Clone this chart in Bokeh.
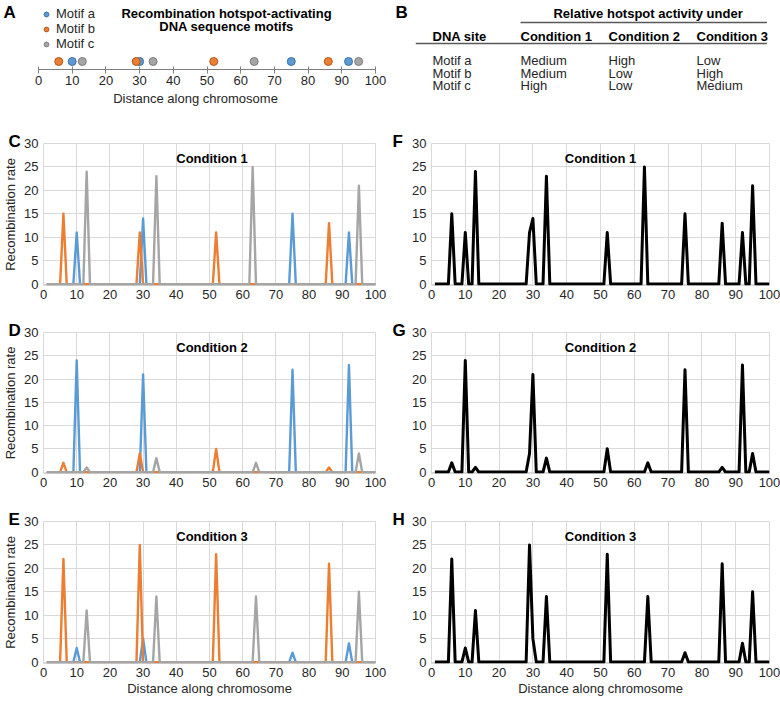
import numpy as np
from bokeh.plotting import figure
from bokeh.models import (Range1d, Label, Legend, LegendItem, SingleIntervalTicker,
                          ColumnDataSource, Title)
from bokeh.layouts import column, row
from bokeh.embed import file_html
from bokeh.resources import INLINE
from bokeh.core.properties import value

FONT = "Liberation Sans"
TXT = "#262626"
GRID = "#d9d9d9"

# ---------------- data ----------------
motif_names = ["Motif a", "Motif b", "Motif c"]
motif_colors = ["#5B9BD5", "#ED7D31", "#A5A5A5"]
motif_edges = ["#41719C", "#AE5A21", "#7B7B7B"]

# motif positions along the chromosome (panel A)
pos_a = [10, 30, 75, 92]
pos_b = [6, 29, 52, 86]
pos_c = [13, 34, 64, 95]
pos_c_cond1 = [13, 34, 63, 95]  # as drawn in the Condition 1 panels

# recombination rate at each motif site, per condition
cond1_a = [11, 14, 15, 11]
cond1_b = [15, 11, 11, 13]
cond1_c = [24, 23, 25, 21]
cond2_a = [24, 21, 22, 23]
cond2_b = [2, 4, 5, 1]
cond2_c = [1, 3, 2, 4]
cond3_a = [3, 5, 2, 4]
cond3_b = [22, 25, 23, 21]
cond3_c = [11, 14, 14, 15]

chromosome = list(range(1, 101))  # sampled positions along chromosome

# table (panel B)
table_header = ["DNA site", "Condition 1", "Condition 2", "Condition 3"]
table_sites = ["Motif a", "Motif b", "Motif c"]
table_cond1 = ["Medium", "Medium", "High"]
table_cond2 = ["High", "Low", "Low"]
table_cond3 = ["Low", "High", "Medium"]

x_label = "Distance along chromosome"
y_label = "Recombination rate"


def profile(positions, heights):
    y = np.zeros(len(chromosome))
    for p, h in zip(positions, heights):
        y[chromosome.index(p)] += h
    return y


conditions = [
    ("Condition 1", [(pos_a, cond1_a), (pos_b, cond1_b), (pos_c_cond1, cond1_c)]),
    ("Condition 2", [(pos_a, cond2_a), (pos_b, cond2_b), (pos_c, cond2_c)]),
    ("Condition 3", [(pos_a, cond3_a), (pos_b, cond3_b), (pos_c, cond3_c)]),
]

# ---------------- layout constants ----------------
LEFT_W, RIGHT_W = 390, 390
L_BL, L_BR = 38, 15
R_BL, R_BR = 41, 11
TOP_H = 110
ROWS = [(197, 33, 22), (188, 25, 22), (205, 26, 37)]


def style_axes(p):
    for ax in (p.xaxis[0], p.yaxis[0]):
        ax.axis_line_color = None
        ax.major_tick_line_color = None
        ax.minor_tick_line_color = None
        ax.major_tick_out = 0
        ax.major_tick_in = 0
        ax.major_label_text_font = FONT
        ax.major_label_text_font_size = "13px"
        ax.major_label_text_color = TXT
    p.xaxis[0].ticker = SingleIntervalTicker(interval=10, num_minor_ticks=0)
    p.yaxis[0].ticker = SingleIntervalTicker(interval=5, num_minor_ticks=0)
    p.xaxis[0].major_label_standoff = 4
    p.yaxis[0].major_label_standoff = 5
    p.xgrid.grid_line_color = GRID
    p.ygrid.grid_line_color = GRID
    p.outline_line_color = GRID


def rate_panel(idx, left):
    title, series = conditions[idx]
    h, bt, bb = ROWS[idx]
    w = LEFT_W if left else RIGHT_W
    bl, br = (L_BL, L_BR) if left else (R_BL, R_BR)
    fw = w - bl - br
    fh = h - bt - bb
    letters = ["C", "D", "E"] if left else ["F", "G", "H"]
    ttl = Title(text=letters[idx], align="left", offset=-(bl - (3 if left else 2)),
                text_font=FONT, text_font_style="bold", text_font_size="17px",
                text_color="#000000", standoff=-14, vertical_align="bottom")
    p = figure(width=w, height=h, output_backend="svg", toolbar_location=None,
               title=ttl,
               x_range=Range1d(0, 100), y_range=Range1d(-0.3, 30),
               min_border_left=bl, min_border_right=br,
               min_border_top=bt, min_border_bottom=bb,
               background_fill_color="white", border_fill_color="white")
    style_axes(p)
    if left:
        for (pos, hts), col in zip(series, motif_colors):
            p.line(chromosome, profile(pos, hts), line_color=col, line_width=2.4,
                   line_join="round")
        ya = p.yaxis[0]
        ya.axis_label = y_label
        ya.axis_label_text_font = FONT
        ya.axis_label_text_font_size = "13px"
        ya.axis_label_text_font_style = "normal"
        ya.axis_label_text_color = TXT
        ya.axis_label_standoff = 3
    else:
        total = sum(profile(pos, hts) for pos, hts in series)
        p.line(chromosome, total, line_color="black", line_width=3, line_join="round")
    p.add_layout(Label(x=fw / 2, y=fh - 15, x_units="screen", y_units="screen",
                       text=title, text_font=FONT, text_font_style="bold",
                       text_font_size="13px", text_color="#000000",
                       text_align="center", text_baseline="middle"))
    if idx == 2:
        xa = p.xaxis[0]
        xa.axis_label = x_label
        xa.axis_label_text_font = FONT
        xa.axis_label_text_font_size = "13px"
        xa.axis_label_text_font_style = "normal"
        xa.axis_label_text_color = TXT
        xa.axis_label_standoff = 1
    return p


# ---------------- panel A ----------------
fa_h = 69                      # frame height (axis line at bottom)
px_per_unit = (LEFT_W - L_BL - L_BR) / 100.0
pa = figure(width=LEFT_W, height=TOP_H, output_backend="svg", toolbar_location=None,
            title=None, y_axis_type=None,
            x_range=Range1d(-L_BL / px_per_unit, 100 + L_BR / px_per_unit),
            y_range=Range1d(-1, fa_h / 8.0 - 1),
            min_border=0, min_border_bottom=TOP_H - fa_h, outline_line_color=None)
pa.xgrid.visible = False
pa.ygrid.visible = False
ax = pa.xaxis[0]
ax.bounds = (0, 100)
ax.ticker = SingleIntervalTicker(interval=10, num_minor_ticks=0)
ax.axis_line_color = "#7f7f7f"
ax.major_tick_line_color = "#7f7f7f"
ax.major_tick_in = 3
ax.major_tick_out = 4
ax.major_label_standoff = 2
ax.major_label_text_font = FONT
ax.major_label_text_font_size = "13px"
ax.major_label_text_color = TXT
ax.axis_label = x_label
ax.axis_label_text_font = FONT
ax.axis_label_text_font_size = "13px"
ax.axis_label_text_font_style = "normal"
ax.axis_label_text_color = TXT
ax.axis_label_standoff = 3

items = []
for name, pos, fc, ec in zip(motif_names, [pos_a, pos_b, pos_c], motif_colors, motif_edges):
    src = ColumnDataSource(dict(x=pos, y=np.zeros(len(pos))))
    r = pa.scatter("x", "y", source=src, size=8, fill_color=fc, line_color=ec, line_width=1)
    items.append(LegendItem(label=name, renderers=[r]))
leg = Legend(items=items, location=(L_BL + 2, fa_h - 51), margin=0, padding=0, spacing=0,
             glyph_width=12, glyph_height=14, label_height=14, label_standoff=4,
             label_text_font=FONT, label_text_font_size="13px", label_text_color=TXT,
             background_fill_alpha=0, border_line_alpha=0)
pa.add_layout(leg)
for txt, yy in [("Recombination hotspot-activating", fa_h - 13),
                ("DNA sequence motifs", fa_h - 26)]:
    pa.add_layout(Label(x=226, y=yy, x_units="screen", y_units="screen", text=txt,
                        text_font=FONT, text_font_style="bold",
                        text_font_size="13px", text_color="#000000",
                        text_align="center", text_baseline="middle"))
pa.add_layout(Label(x=3, y=fa_h - 12, x_units="screen", y_units="screen", text="A",
                    text_font=FONT, text_font_style="bold", text_font_size="17px",
                    text_color="#000000", text_baseline="middle"))

# ---------------- panel B (table) ----------------
col_px, row_px = 88.0, 12.5
x0_px, y0_px = 42.0, 60.0
pb = figure(frame_width=RIGHT_W, frame_height=TOP_H, output_backend="svg",
            toolbar_location=None, title=None, x_axis_type=None, y_axis_type=None,
            x_range=Range1d(-x0_px / col_px, (RIGHT_W - x0_px) / col_px),
            y_range=Range1d((TOP_H - y0_px) / row_px, -y0_px / row_px),
            min_border=0, outline_line_color=None)
pb.grid.visible = False
body_cols = [table_sites, table_cond1, table_cond2, table_cond3]
bx, by, bt = [], [], []
for ci, colvals in enumerate(body_cols):
    for ri, v in enumerate(colvals):
        bx.append(ci)
        by.append(ri)
        bt.append(v)
pb.text(x="x", y="y", text="t", source=ColumnDataSource(dict(x=bx, y=by, t=bt)),
        text_font=value(FONT), text_font_size="13px", text_color=TXT,
        text_baseline="middle", text_align="left")
header_y = -1.92
pb.text(x=list(range(len(table_header))), y=[header_y] * len(table_header),
        text=table_header, text_font=value(FONT), text_font_style="bold",
        text_font_size="13px", text_color="#000000", text_baseline="middle",
        text_align="left")
pb.text(x=[2.45], y=[-3.76], text=["Relative hotspot activity under"],
        text_font=value(FONT), text_font_style="bold", text_font_size="13px",
        text_color="#000000", text_baseline="middle", text_align="center")
pb.segment(x0=[1, -0.19], y0=[-3.04, -1.36], x1=[3.8, 3.8], y1=[-3.04, -1.36],
           line_color="#595959", line_width=1.6)
pb.add_layout(Label(x=5, y=TOP_H - 12, x_units="screen", y_units="screen", text="B",
                    text_font=FONT, text_font_style="bold", text_font_size="17px",
                    text_color="#000000", text_baseline="middle"))

# ---------------- assemble ----------------
rows = [row(pa, pb)]
for i in range(3):
    rows.append(row(rate_panel(i, True), rate_panel(i, False)))
layout = column(*rows)

open("out.html", "w").write(file_html(layout, INLINE))
